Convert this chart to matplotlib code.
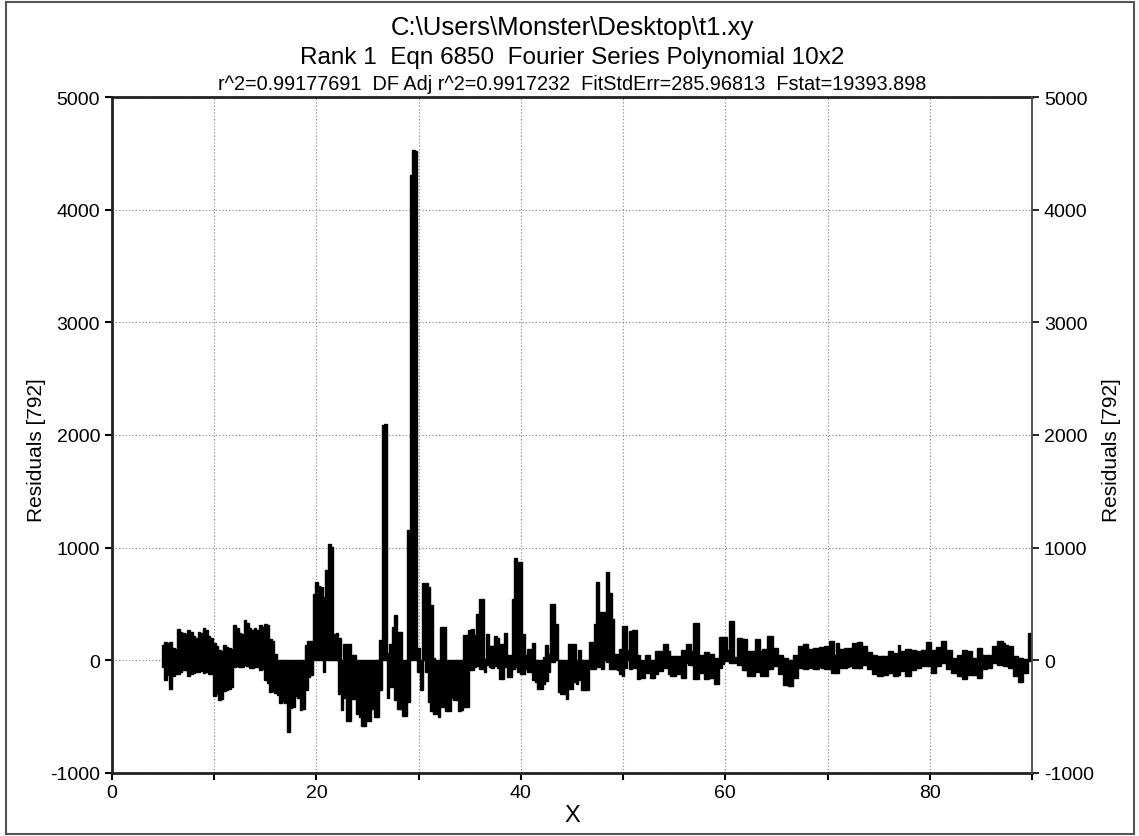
import matplotlib
matplotlib.use("Agg")
import matplotlib.pyplot as plt
import numpy as np
from matplotlib.patches import Rectangle

plt.rcParams["font.family"] = ["Liberation Sans", "DejaVu Sans"]
plt.rcParams["axes.unicode_minus"] = False

title_lines = [
    "C:\\Users\\Monster\\Desktop\\t1.xy",
    "Rank 1  Eqn 6850  Fourier Series Polynomial 10x2",
    "r^2=0.99177691  DF Adj r^2=0.9917232  FitStdErr=285.96813  Fstat=19393.898",
]
y_label = "Residuals [792]"
x_label = "X"

# residual bins, 0.25 wide, from X=5 to X=90
x_res = np.arange(5.0, 90.001, 0.25)

# highest residual in each bin
res_hi = [
    140, 160, 150, 165,  110, 100, 278, 250,  245, 230, 265, 250,  220, 200, 255, 240,  285, 270, 220, 200,
    150, 130, 95, 80,  140, 120, 110, 100,  310, 290, 245, 230,  355, 330, 285, 270,  285, 270, 315, 300,
    325, 310, 185, 170,  60, 0, 0, 0,  0, 0, 0, 0,  0, 0, 0, 0,  133, 172, 172, 593,
    697, 660, 652, 563,  800, 1030, 1010, 238,  240, 200, 0, 142,  142, 142, 43, 43,  0, 0, 0, 0,
    0, 0, 0, 0,  0, 178, 2090, 2100,  67, 147, 300, 400,  252, 252, 0, 0,  1155, 4308, 4530, 4520,
    110, 0, 682, 682,  650, 490, 20, 0,  0, 296, 296, 0,  0, 0, 0, 0,  0, 0, 228, 228,
    270, 275, 222, 409,  548, 548, 10, 230,  130, 130, 215, 195,  148, 148, 243, 50,  50, 548, 904, 870,
    870, 230, 50, 100,  100, 150, 0, 0,  0, 30, 140, 60,  504, 504, 325, 0,  0, 0, 0, 145,
    145, 145, 0, 90,  0, 0, 0, 160,  160, 325, 696, 430,  430, 430, 785, 600,  370, 60, 60, 100,
    304, 304, 96, 256,  265, 265, 50, 0,  0, 45, 45, 5,  5, 80, 85, 85,  145, 145, 80, 40,
    40, 35, 35, 95,  95, 145, 145, 80,  334, 334, 50, 50,  70, 70, 55, 55,  20, 20, 206, 206,
    206, 95, 347, 347,  30, 200, 200, 185,  185, 80, 80, 80,  185, 185, 80, 100,  100, 220, 220, 110,
    110, 50, 50, 20,  20, 0, 0, 50,  50, 130, 130, 145,  145, 100, 100, 110,  110, 120, 120, 125,
    125, 175, 175, 50,  150, 100, 100, 110,  110, 111, 150, 150,  165, 165, 130, 130,  70, 70, 50, 50,
    40, 40, 40, 40,  80, 80, 65, 65,  140, 80, 80, 100,  100, 95, 95, 80,  80, 95, 95, 165,
    165, 95, 95, 115,  115, 170, 170, 95,  95, 20, 20, 50,  50, 95, 95, 80,  80, 25, 25, 110,
    110, 50, 50, 50,  50, 125, 125, 170,  170, 150, 140, 125,  125, 40, 40, 25,  25, 10, 10, 245,
    245,
]

# lowest residual in each bin
res_lo = [
    -60, -175, -130, -250,  -140, -120, -125, -100,  -85, -90, -140, -120,  -110, -105, -100, -95,  -110, -105, -125, -120,
    -315, -300, -355, -340,  -270, -260, -250, -240,  -55, -50, -60, -55,  -45, -50, -70, -65,  -55, -60, -85, -80,
    -175, -200, -280, -270,  -290, -310, -380, -370,  -380, -635, -420, -410,  -320, -330, -440, -430,  -267, -150, -130, 0,
    0, 0, 0, -104,  0, 0, 0, 0,  0, -300, -440, -330,  -535, -535, -345, -345,  -475, -505, -580, -580,
    -535, -535, -430, -505,  -505, -267, 0, 0,  -330, -240, -240, -350,  -430, -430, -490, -490,  -370, 0, 0, 0,
    -100, -267, 0, -100,  -370, -450, -480, -480,  -505, -415, -415, -450,  -450, -330, -355, -355,  -450, -445, -415, -415,
    -90, -90, -60, -50,  -75, -75, -104, -45,  -60, -70, -50, -70,  -163, -163, -60, -148,  -148, -80, -60, -100,
    -120, -120, -75, -104,  -104, -178, -193, -252,  -252, -208, -180, -104,  -15, -15, 0, -282,  -296, -296, -341, -252,
    -252, -193, -208, -178,  -267, -267, -267, -75,  -75, -75, -60, -60,  -75, 0, -15, -75,  -75, -75, -90, -118,
    -140, -68, 0, -80,  -70, -70, -170, -155,  -155, -110, -110, -155,  -155, -125, -95, -95,  -68, -68, -125, -140,
    -140, -125, -125, -155,  -155, -20, -40, -40,  -170, -170, -110, -110,  -170, -170, -155, -155,  -208, -208, -68, -30,
    -10, -10, -20, -20,  -20, -40, -40, -90,  -90, -140, -140, -140,  -100, -100, -140, -140,  -140, -80, -80, -50,
    -50, -125, -125, -215,  -215, -230, -230, -155,  -155, -68, -68, -80,  -80, -68, -68, -80,  -80, -55, -67, -80,
    -80, -80, -110, -110,  -110, -67, -67, -67,  -60, -52, -67, -67,  -67, -67, -45, -45,  -80, -80, -118, -118,
    -140, -140, -126, -126,  -110, -110, -140, -140,  -126, -97, -97, -140,  -140, -90, -90, -67,  -67, -52, -52, -52,
    -52, -110, -110, -52,  -52, -22, -22, -80,  -80, -110, -110, -140,  -140, -170, -170, -126,  -126, -132, -132, -160,
    -160, -80, -80, -67,  -67, -22, -22, -37,  -37, -52, -52, -67,  -67, -140, -140, -190,  -190, -110, -110, -10,
    -10,
]

x_ticks = list(range(0, 91, 10))
x_tick_labels = ["0", "", "20", "", "40", "", "60", "", "80", ""]
y_ticks = list(range(-1000, 5001, 1000))

hi = np.array(res_hi, dtype=float)
lo = np.array(res_lo, dtype=float)

fig = plt.figure(figsize=(11.39, 8.37), dpi=100)
ax = fig.add_axes([112 / 1139, 1 - 774 / 837, 920 / 1139, 676 / 837])

ax.bar(x_res, hi - lo, bottom=lo, width=0.27, color="black",
       edgecolor="black", linewidth=1.0, zorder=3)

ax.set_xlim(0, 90)
ax.set_ylim(-1000, 5000)
ax.set_xticks(x_ticks)
ax.set_xticklabels(x_tick_labels)
ax.set_yticks(y_ticks)
ax.grid(True, color="#808080", linestyle=(0, (1, 2)), linewidth=0.8, zorder=0)

ax.tick_params(axis="both", direction="out", length=5, width=1.5, labelsize=14, colors="black")
ax.tick_params(axis="x", pad=3)
for side in ["left", "bottom", "top"]:
    ax.spines[side].set_linewidth(2)
    ax.spines[side].set_color("#222222")
ax.spines["right"].set_linewidth(1.2)
ax.spines["right"].set_color("#555555")

ax2 = ax.twinx()
ax2.set_ylim(-1000, 5000)
ax2.set_yticks(y_ticks)
ax2.tick_params(axis="y", direction="out", length=5, width=1.2, labelsize=14)
for side in ["left", "bottom", "top"]:
    ax2.spines[side].set_visible(False)
ax2.spines["right"].set_linewidth(1.2)
ax2.spines["right"].set_color("#555555")

ax.set_xlabel(x_label, fontsize=17, labelpad=2)
ax.set_ylabel(y_label, fontsize=15)
ax2.set_ylabel(y_label, fontsize=15)
ax.yaxis.set_label_coords(-0.072, 0.479)
ax2.yaxis.set_label_coords(1.076, 0.479)

fig.text(572 / 1139, 1 - 28 / 837, title_lines[0], ha="center", va="center", fontsize=18.5)
fig.text(572 / 1139, 1 - 58 / 837, title_lines[1], ha="center", va="center", fontsize=17.5)
fig.text(572 / 1139, 1 - 84 / 837, title_lines[2], ha="center", va="center", fontsize=14.3)

fig.patches.append(Rectangle((6 / 1139, 2 / 837), 1128 / 1139, 832 / 837,
                             transform=fig.transFigure, fill=False,
                             edgecolor="#555555", linewidth=1.5))

fig.savefig("out.png", dpi=100)
